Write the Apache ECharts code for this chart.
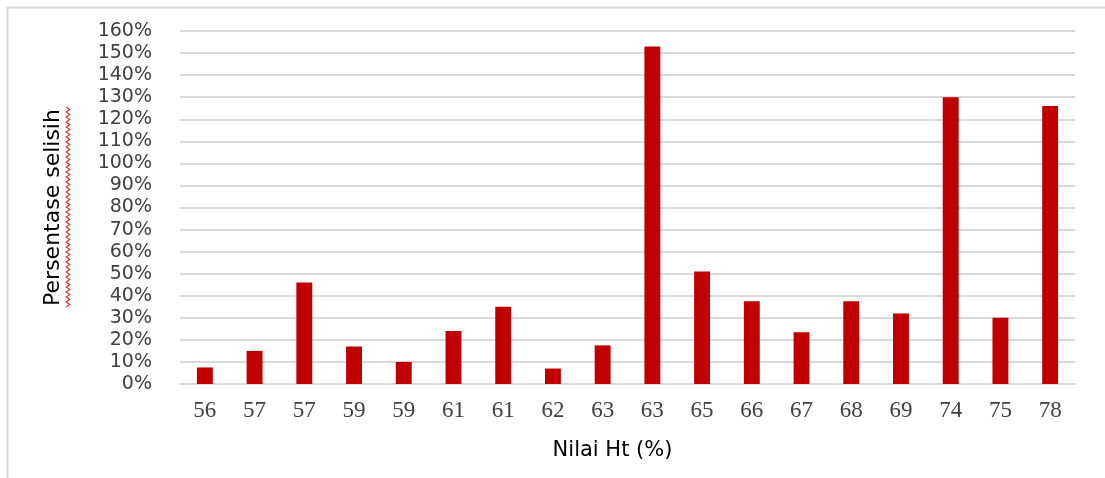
<!DOCTYPE html>
<html>
<head>
<meta charset="utf-8">
<script src="https://cdn.jsdelivr.net/npm/echarts@6/dist/echarts.min.js"></script>
<style>
html,body{margin:0;padding:0;background:#fff;}
#chart{width:1105px;height:478px;}
</style>
</head>
<body>
<div id="chart"></div>
<script>
var categories = ['56','57','57','59','59','61','61','62','63','63','65','66','67','68','69','74','75','78'];
var values = [7.5,15,46,17,10,24,35,7,17.5,153,51,37.5,23.5,37.5,32,130,30,126];
var yTicks = {min:0, max:160, interval:10};
var xTitle = 'Nilai Ht (%)';
var yTitle = 'Persentase selisih';

var chart = echarts.init(document.getElementById('chart'), null, {renderer:'canvas'});

function wavy(x, y0, y1, amp, step) {
  var pts = [];
  var i = 0;
  for (var y = y0; y <= y1; y += step / 2) {
    pts.push([x + (i % 2 === 0 ? -amp : amp), y]);
    i++;
  }
  return pts;
}

chart.setOption({
  animation:false,
  backgroundColor:'#ffffff',
  grid:{left:180, right:30, top:31, bottom:94, containLabel:false},
  xAxis:{
    type:'category',
    data:categories,
    axisLine:{show:true, lineStyle:{color:'#d9d9d9', width:2}},
    axisTick:{show:false},
    axisLabel:{fontFamily:'Liberation Serif', fontSize:23, color:'#404040', margin:15},
    name:xTitle,
    nameLocation:'middle',
    nameGap:56,
    nameTextStyle:{fontFamily:'DejaVu Sans', fontSize:21, color:'#000000', padding:[0,30,0,0]}
  },
  yAxis:{
    type:'value',
    min:yTicks.min, max:yTicks.max, interval:yTicks.interval,
    axisLine:{show:false},
    axisTick:{show:false},
    splitLine:{lineStyle:{color:'#d9d9d9', width:2}},
    axisLabel:{fontFamily:'DejaVu Sans', fontSize:19, color:'#404040', margin:28,
      formatter:function(v){return v + '%';}},
    name:yTitle,
    nameLocation:'middle',
    nameGap:116,
    nameRotate:90,
    nameTextStyle:{fontFamily:'DejaVu Sans', fontSize:22, color:'#000000'}
  },
  series:[{
    type:'bar',
    data:values,
    barWidth:'32%',
    itemStyle:{color:'#C00000'}
  }],
  graphic:[
    {type:'polyline', shape:{points:[[7.5,478],[7.5,7.5],[1105,7.5]]},
     style:{stroke:'#d9d9d9', lineWidth:2, fill:null}, silent:true},
    {type:'polyline', shape:{points:wavy(68, 107, 307, 1.8, 5)},
     style:{stroke:'#e03030', lineWidth:1.2, fill:null}, silent:true}
  ]
});
</script>
</body>
</html>
